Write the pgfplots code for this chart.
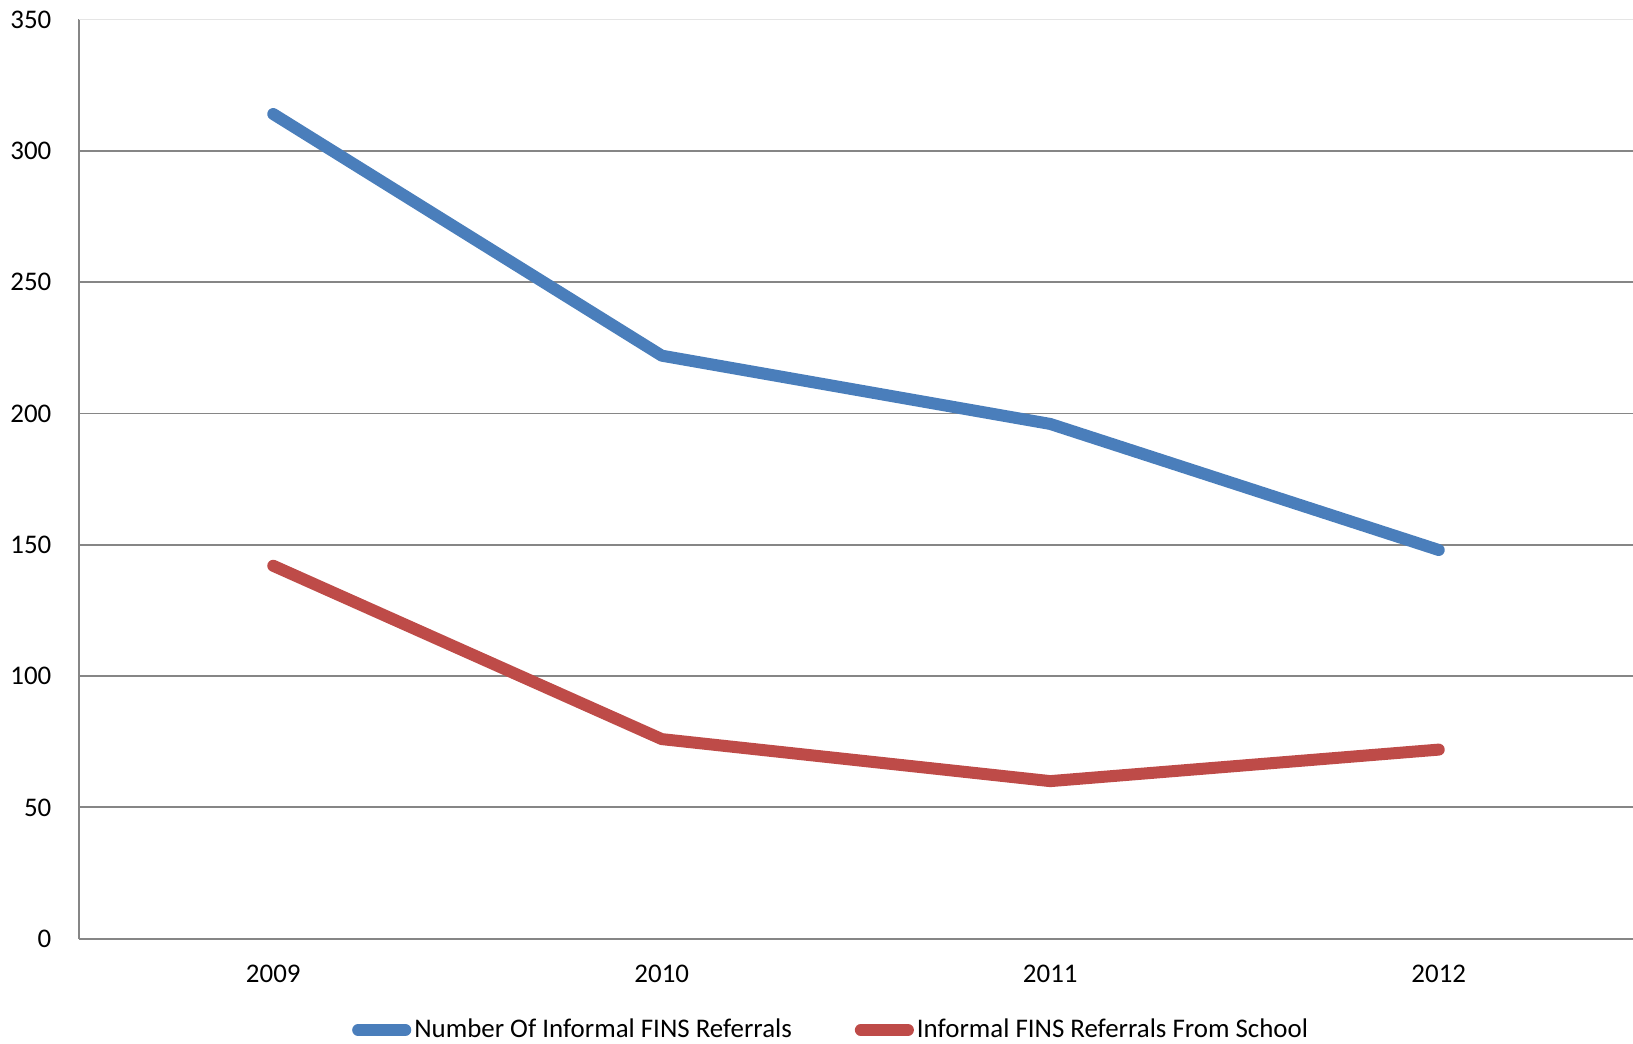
\documentclass[border=0pt]{standalone}
\usepackage{fontspec}
\setmainfont{Carlito}
\usepackage{pgfplots}
\pgfplotsset{compat=1.18}
\definecolor{serA}{HTML}{4A7EBB}
\definecolor{serB}{HTML}{BE4B48}
\definecolor{gridgray}{HTML}{868686}
\begin{document}
\begin{tikzpicture}
\path[use as bounding box] (-26.33bp,-34.77bp) rectangle (518bp,312.9bp);
\begin{axis}[
    at={(0,0)}, anchor=south west,
    scale only axis,
    width=518bp, height=306.4bp,
    xmin=-0.5, xmax=3.5,
    ymin=0, ymax=350,
    xtick={0,1,2,3},
    xticklabels={2009,2010,2011,2012},
    ytick={0,50,...,350},
    major tick length=0pt,
    axis x line*=bottom,
    axis y line*=left,
    axis line style={draw=gridgray, line width=0.7bp},
    ymajorgrids,
    grid style={draw=gridgray, line width=0.6bp},
    extra y ticks={350},
    extra y tick labels={},
    extra y tick style={grid style={draw=black!10, line width=0.6bp}},
    font=\fontsize{9}{11}\selectfont,
    /pgf/number format/assume math mode=true,
    xticklabel style={anchor=base, yshift=-14.7bp},
    yticklabel style={xshift=-5.7bp},
    clip=false,
    legend columns=2,
    legend style={draw=none, fill=none, at={(0.4843,-0.0993)}, anchor=center,
        font=\fontsize{9}{11}\selectfont,
        /tikz/every even column/.append style={column sep=20bp},
        nodes={inner xsep=1bp}},
    legend image code/.code={\draw[#1, line cap=round] (0bp,0bp) -- (15.7bp,0bp);},
]
\addplot[serA, line width=4bp, line cap=round, line join=round] coordinates {
    (0,314) (1,222) (2,196) (3,148)
};
\addlegendentry{Number Of Informal FINS Referrals}
\addplot[serB, line width=4bp, line cap=round, line join=round] coordinates {
    (0,142) (1,76) (2,60) (3,72)
};
\addlegendentry{Informal FINS Referrals From School}
\end{axis}
\end{tikzpicture}
\end{document}
